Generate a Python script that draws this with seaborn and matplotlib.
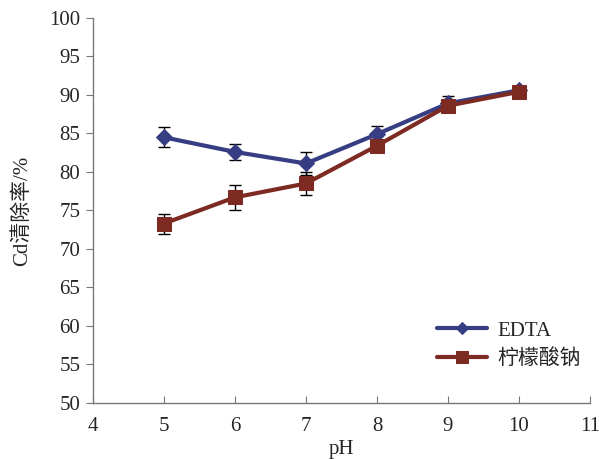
import matplotlib
matplotlib.use("Agg")
import matplotlib.pyplot as plt
import seaborn as sns
import pandas as pd

ph = [5, 6, 7, 8, 9, 10]
edta = [84.5, 82.6, 81.1, 84.9, 88.9, 90.6]
edta_err = [1.3, 1.0, 1.5, 1.0, 0.9, 0.3]
citrate = [73.3, 76.7, 78.5, 83.4, 88.6, 90.4]
citrate_err = [1.3, 1.6, 1.5, 0.5, 0.5, 0.4]
names = ["EDTA", "柠檬酸钠"]
colors = ["#373d82", "#7d2a22"]
markers = ["D", "s"]

sns.set_style("white")
plt.rcParams["font.family"] = ["Liberation Serif", "Noto Sans CJK SC"]

df = pd.concat([
    pd.DataFrame({"pH": ph, "rate": edta, "err": edta_err, "agent": names[0]}),
    pd.DataFrame({"pH": ph, "rate": citrate, "err": citrate_err, "agent": names[1]}),
])

fig = plt.figure(figsize=(5.99, 4.59), dpi=100)
ax = fig.add_axes([0.155, 0.122, 0.83, 0.839])

for name, col, mk, ms in zip(names, colors, markers, [8, 10]):
    sub = df[df["agent"] == name]
    ax.errorbar(sub["pH"], sub["rate"], yerr=sub["err"], fmt="none",
                ecolor="black", elinewidth=1.0, capsize=4, capthick=1.0, zorder=2)
for name, col, mk, ms in zip(names, colors, markers, [8, 10]):
    sub = df[df["agent"] == name]
    sns.lineplot(data=sub, x="pH", y="rate", ax=ax, color=col, marker=mk,
                 markersize=ms, markeredgecolor=col, linewidth=3, label=name,
                 zorder=3 if name == "EDTA" else 4)

ax.set_xlim(4, 11)
ax.set_ylim(50, 100)
ax.set_xticks(range(4, 12))
ax.set_yticks(range(50, 101, 5))
for side in ["top", "right"]:
    ax.spines[side].set_visible(False)
for side in ["left", "bottom"]:
    ax.spines[side].set_color("#777777")
    ax.spines[side].set_linewidth(1.0)
ax.tick_params(axis="y", direction="out", length=5, color="#777777", labelsize=15, left=True, pad=4)
ax.tick_params(axis="x", direction="in", length=5, color="#777777", labelsize=15, bottom=True, pad=10)
ax.set_xlabel("pH", fontsize=15, labelpad=3)
ax.set_ylabel("Cd清除率/%", fontsize=15, labelpad=12)

leg = ax.legend(loc="lower right", bbox_to_anchor=(1.02, 0.04), frameon=False,
                fontsize=15, handlelength=2.4, handletextpad=0.5,
                labelspacing=0.4, markerscale=0.8)

fig.savefig("out.png", dpi=100)
